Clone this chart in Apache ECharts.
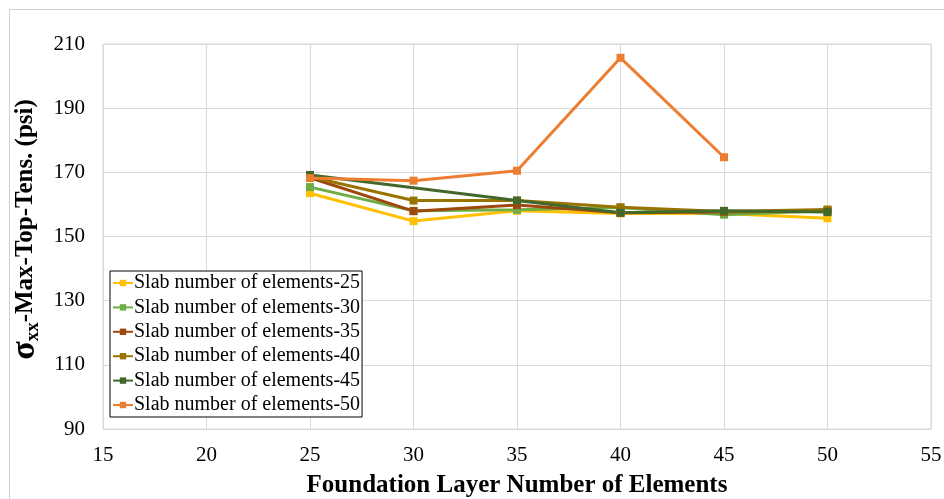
<!DOCTYPE html>
<html>
<head>
<meta charset="utf-8">
<script src="https://cdn.jsdelivr.net/npm/echarts@6/dist/echarts.min.js"></script>
<style>html,body{margin:0;padding:0;background:#fff;}#c{width:944px;height:499px;}</style>
</head>
<body>
<div id="c"></div>
<script>
const xValues = [25, 30, 35, 40, 45, 50];
const seriesNames = ['Slab number of elements-25','Slab number of elements-30','Slab number of elements-35','Slab number of elements-40','Slab number of elements-45','Slab number of elements-50'];
const s25 = [163.5, 154.8, 158.0, 157.2, 157.2, 155.7];
const s30 = [165.4, 158.0, 158.3, 159.0, 156.8, 158.0];
const s35 = [168.3, 157.9, 159.8, 157.4, 157.6, 158.0];
const s40 = [168.6, 161.2, 161.2, 159.1, 157.8, 158.4];
const s45 = [169.2, null, 161.2, 157.4, 158.0, 157.6];
const s50 = [168.2, 167.4, 170.5, 205.7, 174.7, null];
const colors = ['#FFC000', '#70AD47', '#9E480E', '#997300', '#43682B', '#ED7D31'];
const xTicks = [15, 20, 25, 30, 35, 40, 45, 50, 55];
const yTicks = [90, 110, 130, 150, 170, 190, 210];

const allSeries = [s25, s30, s35, s40, s45, s50];
const font = '"Liberation Serif", "Times New Roman", serif';

const chart = echarts.init(document.getElementById('c'));
chart.setOption({
  animation: false,
  backgroundColor: '#fff',
  graphic: [{
    type: 'rect', left: 7, top: 7, shape: {width: 950, height: 500},
    style: {fill: 'none', stroke: '#d0d0d0', lineWidth: 1}, z: -1
  }],
  grid: {left: 103, right: 13, top: 44, bottom: 70, show: true, borderColor: '#d9d9d9', borderWidth: 1,
         containLabel: false, outerBoundsMode: 'none'},
  legend: {
    orient: 'vertical', left: 110, top: 271,
    data: seriesNames,
    borderColor: '#000', borderWidth: 1, padding: [2, 2, 2, 2],
    backgroundColor: '#fff',
    itemWidth: 20, itemHeight: 8, itemGap: 4.4,
    textStyle: {fontFamily: font, fontSize: 20, color: '#000', padding: [0, 0, 0, -4]}
  },
  xAxis: {
    type: 'value', min: xTicks[0], max: xTicks[xTicks.length - 1], interval: 5,
    axisLine: {show: false}, axisTick: {show: false},
    splitLine: {show: true, lineStyle: {color: '#d9d9d9', width: 1}},
    axisLabel: {fontFamily: font, fontSize: 21, color: '#000', margin: 16},
    name: 'Foundation Layer Number of Elements', nameLocation: 'middle', nameGap: 44,
    nameTextStyle: {fontFamily: font, fontSize: 25, fontWeight: 'bold', color: '#000'}
  },
  yAxis: {
    type: 'value', min: yTicks[0], max: yTicks[yTicks.length - 1], interval: 20,
    axisLine: {show: false}, axisTick: {show: false},
    splitLine: {show: true, lineStyle: {color: '#d9d9d9', width: 1}},
    axisLabel: {fontFamily: font, fontSize: 21, color: '#000', margin: 18},
    name: '{s|σ}{sub|xx}{t|-Max-Top-Tens. (psi)}', nameLocation: 'middle', nameGap: 37, nameRotate: 90,
    nameTextStyle: {
      fontFamily: font, color: '#000',
      rich: {
        s: {fontFamily: font, fontSize: 34, fontWeight: 'bold', color: '#000', padding: [0, 0, 0, 14]},
        sub: {fontFamily: font, fontSize: 19, fontWeight: 'bold', color: '#000', verticalAlign: 'bottom', padding: [14, 0, 0, 0]},
        t: {fontFamily: font, fontSize: 25, fontWeight: 'bold', color: '#000'}
      }
    }
  },
  series: allSeries.map((vals, i) => ({
    name: seriesNames[i],
    type: 'line',
    data: xValues.map((x, j) => [x, vals[j]]).filter(p => p[1] !== null),
    symbol: 'rect', symbolSize: 8,
    lineStyle: {color: colors[i], width: 3},
    itemStyle: {color: colors[i]},
    emphasis: {disabled: true}
  }))
});
</script>
</body>
</html>
